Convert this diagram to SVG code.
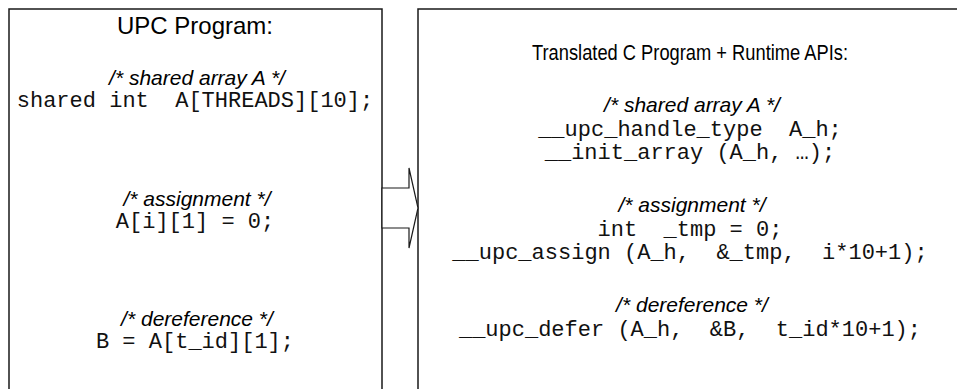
<svg xmlns="http://www.w3.org/2000/svg" width="957" height="389" viewBox="0 0 957 389">
  <style>
    .box { fill: #fff; stroke: #1a1a1a; stroke-width: 1.5; }
    .title { font-family: "Liberation Sans", Arial, sans-serif; fill: #000; text-anchor: middle; }
    .t-left { font-size: 24px; }
    .t-right { font-size: 22px; }
    .cmt { font-family: "Liberation Sans", Arial, sans-serif; font-size: 21px; font-style: italic; fill: #000; text-anchor: middle; }
    .code { font-family: "Liberation Mono", "Courier New", monospace; font-size: 22px; fill: #111; text-anchor: middle; white-space: pre; }
    .arrow { fill: #fff; stroke: #1a1a1a; stroke-width: 1.2; stroke-linejoin: miter; }
  </style>
  <rect width="957" height="389" fill="#fff"/>

  <!-- source program panel -->
  <g id="upc-program">
    <path class="box" d="M9,400 V9 H382 V400"/>
    <text class="title t-left" x="195" y="34">UPC Program:</text>
    <text class="cmt" x="197" y="85">/* shared array A */</text>
    <text class="code" x="195" y="107" xml:space="preserve">shared int  A[THREADS][10];</text>
    <text class="cmt" x="197" y="206">/* assignment */</text>
    <text class="code" x="195" y="228" xml:space="preserve">A[i][1] = 0;</text>
    <text class="cmt" x="197" y="326">/* dereference */</text>
    <text class="code" x="195" y="348" xml:space="preserve">B = A[t_id][1];</text>
  </g>

  <!-- translated program panel -->
  <g id="translated-program">
    <path class="box" d="M418,400 V9 H960"/>
    <text class="title t-right" x="690" y="60" textLength="316" lengthAdjust="spacingAndGlyphs">Translated C Program + Runtime APIs:</text>
    <text class="cmt" x="692" y="112">/* shared array A */</text>
    <text class="code" x="690" y="136" xml:space="preserve">__upc_handle_type  A_h;</text>
    <text class="code" x="690" y="159" xml:space="preserve">__init_array (A_h, …);</text>
    <text class="cmt" x="692" y="212">/* assignment */</text>
    <text class="code" x="690" y="236" xml:space="preserve">int  _tmp = 0;</text>
    <text class="code" x="690" y="259" xml:space="preserve">__upc_assign (A_h,  &amp;_tmp,  i*10+1);</text>
    <text class="cmt" x="692" y="312">/* dereference */</text>
    <text class="code" x="690" y="336" xml:space="preserve">__upc_defer (A_h,  &amp;B,  t_id*10+1);</text>
  </g>

  <!-- translation arrow -->
  <g id="connectors">
    <polygon class="arrow" points="382,188 409,188 409,168 418,208 409,248 409,228 382,228"/>
  </g>
</svg>
